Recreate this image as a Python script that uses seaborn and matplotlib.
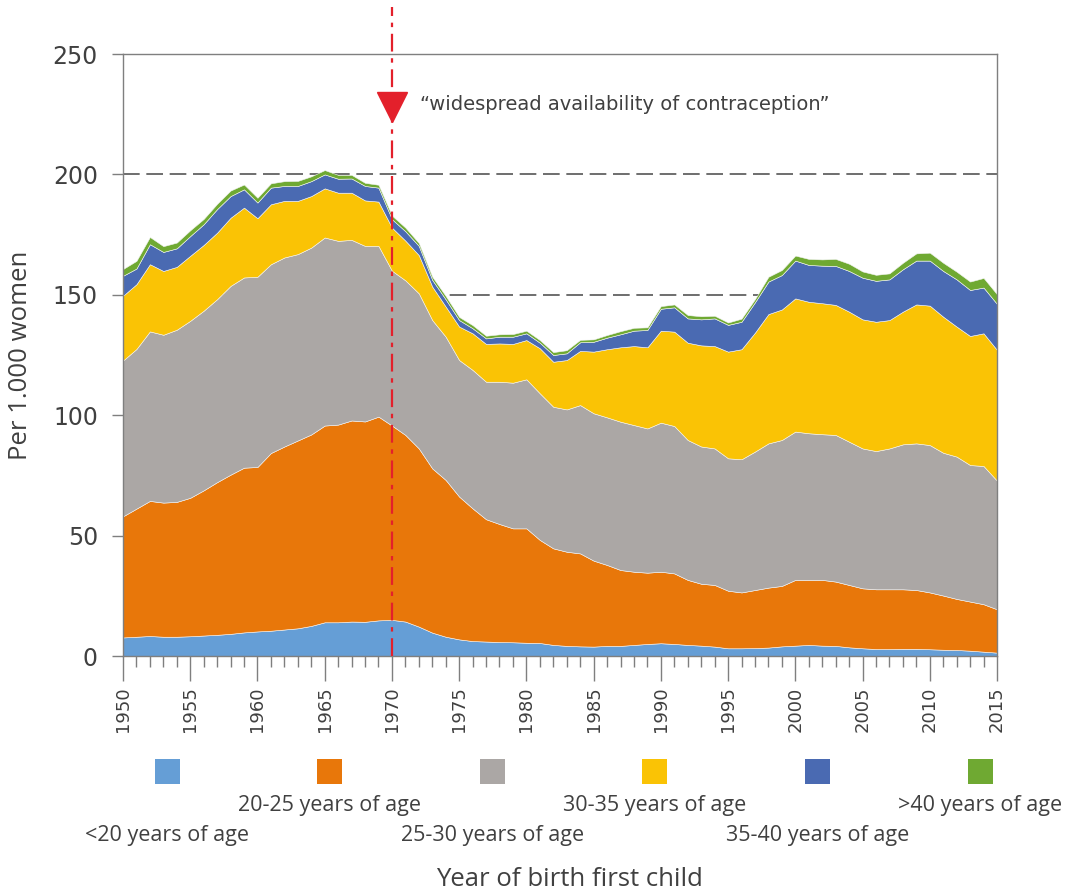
import numpy as np
import pandas as pd
import matplotlib
matplotlib.use("Agg")
import matplotlib.pyplot as plt
from matplotlib.patches import Rectangle
from matplotlib.ticker import MultipleLocator
import seaborn as sns

# First births per 1.000 women, by age group of the mother
years = list(range(1950, 2016))

under_20 = [7.7, 8.0, 8.3, 8.0, 8.0, 8.2, 8.5, 8.8, 9.2, 9.8,
            10.2, 10.5, 11.0, 11.5, 12.5, 14.0, 14.0, 14.3, 14.2, 14.8,
            15.0, 14.3, 12.2, 9.7, 8.0, 6.9, 6.2, 6.0, 5.8, 5.7,
            5.5, 5.4, 4.6, 4.2, 4.0, 3.9, 4.2, 4.2, 4.6, 5.0,
            5.3, 5.0, 4.6, 4.3, 3.9, 3.2, 3.2, 3.3, 3.5, 4.0,
            4.3, 4.6, 4.3, 4.2, 3.6, 3.2, 2.9, 2.9, 3.0, 3.0,
            2.8, 2.6, 2.5, 2.2, 1.8, 1.4]
age_20_25 = [50.3, 53.2, 56.1, 55.7, 56.0, 57.5, 60.3, 63.4, 66.1, 68.4,
             68.3, 73.8, 76.0, 78.0, 79.5, 81.7, 82.1, 83.5, 83.2, 84.6,
             80.7, 77.5, 74.0, 68.2, 65.1, 59.3, 55.1, 50.8, 49.0, 47.3,
             47.5, 42.8, 40.1, 39.1, 38.6, 35.7, 33.6, 31.5, 30.4, 29.6,
             29.7, 29.3, 27.0, 25.7, 25.6, 23.9, 23.2, 24.1, 24.9, 25.1,
             27.3, 27.0, 27.3, 26.7, 25.9, 24.9, 24.8, 24.8, 24.7, 24.4,
             23.6, 22.5, 21.2, 20.4, 19.7, 18.0]
age_25_30 = [64.7, 66.3, 70.4, 69.7, 71.5, 73.5, 74.6, 76.0, 78.4, 79.0,
             79.0, 78.4, 78.5, 77.4, 77.6, 78.1, 76.3, 75.0, 72.9, 70.9,
             64.3, 64.2, 64.4, 61.6, 59.5, 56.7, 57.5, 57.1, 59.1, 60.5,
             61.9, 60.9, 58.8, 59.1, 61.6, 61.2, 61.3, 61.6, 60.9, 59.9,
             61.9, 61.2, 58.1, 57.0, 56.7, 55.0, 55.3, 57.5, 59.9, 60.6,
             61.6, 60.9, 60.5, 60.9, 59.5, 58.1, 57.4, 58.5, 60.2, 60.9,
             61.2, 59.3, 59.1, 56.7, 57.4, 53.4]
age_30_35 = [26.9, 26.9, 27.9, 26.5, 26.1, 27.0, 27.3, 27.6, 28.3, 29.0,
             24.3, 24.9, 23.5, 22.1, 21.4, 20.4, 20.0, 19.6, 18.9, 18.4,
             17.9, 16.5, 15.9, 13.9, 12.5, 13.9, 15.2, 15.7, 15.9, 16.1,
             16.3, 18.7, 18.7, 20.5, 22.5, 25.6, 28.3, 30.9, 32.8, 33.7,
             38.2, 39.2, 40.4, 42.0, 42.5, 44.3, 45.7, 49.4, 53.7, 54.2,
             55.3, 54.6, 54.4, 54.0, 54.0, 53.6, 53.7, 53.3, 55.1, 57.7,
             57.9, 56.5, 54.0, 53.6, 55.1, 54.3]
age_35_40 = [8.3, 6.5, 8.3, 7.9, 7.7, 8.2, 8.6, 9.8, 9.0, 7.6,
             6.5, 6.9, 6.2, 6.2, 6.2, 5.8, 5.8, 5.9, 6.0, 5.8,
             3.5, 3.9, 3.8, 2.8, 3.0, 2.7, 2.1, 2.3, 2.8, 3.0,
             2.8, 2.3, 2.8, 2.8, 3.6, 4.1, 4.8, 5.4, 6.4, 7.2,
             9.1, 10.1, 10.1, 10.8, 11.5, 11.1, 11.4, 12.6, 13.5, 14.3,
             15.7, 15.3, 15.6, 16.2, 16.9, 17.3, 17.0, 16.9, 17.6, 18.2,
             18.7, 19.0, 19.6, 19.1, 19.0, 19.1]
over_40 = [2.8, 3.2, 3.0, 2.4, 2.4, 2.4, 2.2, 2.2, 2.3, 2.0,
           2.0, 1.8, 2.0, 2.1, 2.0, 1.8, 1.6, 1.5, 1.3, 1.2,
           1.5, 1.5, 1.2, 1.3, 1.4, 1.3, 1.3, 1.1, 1.0, 1.1,
           1.1, 1.1, 1.2, 1.3, 1.0, 1.0, 1.1, 1.3, 1.2, 1.1,
           1.1, 1.2, 1.4, 1.3, 1.1, 1.0, 1.3, 1.3, 2.0, 2.1,
           2.1, 2.5, 2.6, 2.9, 3.0, 2.6, 2.5, 2.5, 2.7, 3.0,
           3.3, 3.4, 3.2, 3.5, 4.0, 4.0]

age_labels = ["<20 years of age", "20-25 years of age", "25-30 years of age",
              "30-35 years of age", "35-40 years of age", ">40 years of age"]
colors = ["#659ED6", "#E8770A", "#ABA7A5", "#FAC305", "#4A6AB2", "#6FA932"]

df = pd.DataFrame({"year": years,
                   age_labels[0]: under_20, age_labels[1]: age_20_25,
                   age_labels[2]: age_25_30, age_labels[3]: age_30_35,
                   age_labels[4]: age_35_40, age_labels[5]: over_40})

sns.set_style("white")
plt.rcParams["font.family"] = ["DejaVu Sans"]

text_grey = "#404040"
axis_grey = "#7f7f7f"

fig = plt.figure(figsize=(10.78, 8.94), dpi=100)
ax = fig.add_axes([123 / 1078, 1 - 656 / 894, 874 / 1078, 602 / 894])

# reference lines behind the areas
for level in [150, 200]:
    ax.axhline(level, color="#555555", lw=1.2, dashes=(10, 4), zorder=1)

ax.stackplot(df["year"], [df[c] for c in age_labels], colors=colors,
             linewidth=0.4, edgecolor="#f4f4f4", zorder=2)

ax.set_xlim(1950, 2015)
ax.set_ylim(0, 250)
ax.yaxis.set_major_locator(MultipleLocator(50))
ax.xaxis.set_major_locator(MultipleLocator(5))
ax.xaxis.set_minor_locator(MultipleLocator(1))

for side in ["left", "bottom", "right", "top"]:
    ax.spines[side].set_visible(True)
    ax.spines[side].set_color(axis_grey)
    ax.spines[side].set_linewidth(1.0)
    ax.spines[side].set_zorder(5)

ax.tick_params(axis="y", which="major", direction="out", length=8, width=1,
               color=axis_grey, labelsize=17, labelcolor=text_grey, pad=10, left=True)
ax.tick_params(axis="x", which="major", direction="out", length=18, width=1,
               color=axis_grey, labelsize=13, labelcolor=text_grey, pad=4,
               labelrotation=90, bottom=True)
ax.tick_params(axis="x", which="minor", direction="out", length=8, width=1,
               color=axis_grey, bottom=True)

ax.set_ylabel("Per 1.000 women", fontsize=18.5, color=text_grey,
              family="Open Sans", labelpad=14)

# contraception marker
ax.axvline(1970, ymin=0, ymax=1.078, color="#E3202B", lw=1.6,
           dashes=(8, 3, 2, 3), clip_on=False, zorder=6)
ax.plot([1970], [228], marker="v", markersize=21, color="#E3202B",
        clip_on=False, zorder=7)
ax.text(1972.1, 229, "\u201cwidespread availability of contraception\u201d",
        fontsize=14, color=text_grey, va="center", ha="left")

# custom legend: squares in a row, labels staggered on two lines
for i, (label, col) in enumerate(zip(age_labels, colors)):
    cx = 167 + i * 162.6
    fig.add_artist(Rectangle(((cx - 12.5) / 1078, 1 - 784 / 894), 25 / 1078, 25 / 894,
                             transform=fig.transFigure, facecolor=col, edgecolor="none"))
    ty = 806 if i % 2 else 836
    fig.text(cx / 1078, 1 - ty / 894, label, ha="center", va="center",
             fontsize=15.5, color=text_grey, family="Open Sans")

fig.text(569 / 1078, 1 - 880 / 894, "Year of birth first child", ha="center",
         va="center", fontsize=18.5, color=text_grey, family="Open Sans")

fig.savefig("out.png", dpi=100)
